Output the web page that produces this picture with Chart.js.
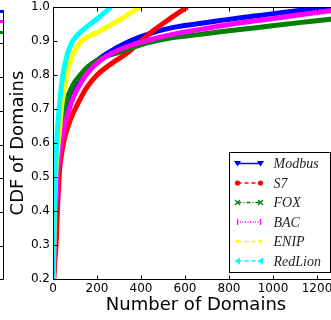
<!DOCTYPE html>
<html>
<head>
<meta charset="utf-8">
<script src="https://cdn.jsdelivr.net/npm/chart.js@4.4.1/dist/chart.umd.min.js"></script>
<style>
    html, body { margin: 0; padding: 0; background: #fff; overflow: hidden; }
    #wrap { position: relative; width: 345px; height: 320px; }
    #prev { position: absolute; left: 0; top: 0; }
</style>
</head>
<body>
<div id="wrap">
    <canvas id="cdfChart"></canvas>
</div>
<!-- bord du panneau voisin, coupé à gauche -->
<svg id="prev" width="6" height="282">
    <rect x="0" y="10" width="4" height="3" fill="#0000ff"/>
    <rect x="0" y="20" width="4" height="3" fill="#ff00ff"/>
    <rect x="0" y="31" width="4" height="3" fill="#008000"/>
    <path d="M3.5 13 V279.5 H0 M0 43.5 H3 M0 77.5 H3 M0 111.5 H3 M0 145.5 H3 M0 178.5 H3 M0 212.5 H3 M0 246.5 H3"
          stroke="#000" stroke-width="1" fill="none"/>
</svg>
<script>
// ============================================================
// DONNÉES
// ============================================================

const protocols = ["Modbus", "S7", "FOX", "BAC", "ENIP", "RedLion"];

const domainTicks = [0, 200, 400, 600, 800, 1000, 1200];
const cdfTicks = [0.2, 0.3, 0.4, 0.5, 0.6, 0.7, 0.8, 0.9, 1.0];

const modbusDomains = [0, 3, 8, 14, 22, 35, 60, 98, 130, 215, 290, 350, 450, 532, 650, 759, 870, 986, 1120, 1260, 1300];
const modbusCdf     = [0.15, 0.3, 0.4, 0.5, 0.55, 0.6, 0.7, 0.76, 0.8, 0.85, 0.88, 0.9, 0.924, 0.938, 0.95, 0.96, 0.97, 0.979, 0.99, 1.0, 1.0];

const s7Domains = [0, 8, 14, 20, 30, 42, 55, 80, 114, 150, 200, 280, 340, 400, 455, 530, 610];
const s7Cdf     = [0.15, 0.25, 0.3, 0.4, 0.52, 0.58, 0.62, 0.67, 0.717, 0.76, 0.8, 0.84, 0.866, 0.9, 0.93, 0.965, 1.0];

const foxDomains = [0, 4, 9, 15, 23, 32, 59, 90, 124, 160, 205, 305, 420, 532, 650, 759, 870, 986, 1120, 1260, 1300];
const foxCdf     = [0.15, 0.3, 0.4, 0.47, 0.52, 0.62, 0.717, 0.77, 0.8, 0.825, 0.844, 0.868, 0.893, 0.909, 0.918, 0.927, 0.935, 0.944, 0.954, 0.964, 0.967];

const bacDomains = [0, 6, 12, 23, 43, 82, 150, 220, 305, 420, 532, 650, 759, 870, 986, 1120, 1260, 1300];
const bacCdf     = [0.15, 0.3, 0.4, 0.526, 0.62, 0.717, 0.8, 0.845, 0.875, 0.9, 0.918, 0.932, 0.944, 0.955, 0.965, 0.977, 0.989, 0.992];

const enipDomains = [0, 4, 7, 12, 18, 27, 41, 62, 90, 127, 200, 260, 310, 395];
const enipCdf     = [0.15, 0.3, 0.4, 0.5, 0.56, 0.62, 0.717, 0.8, 0.86, 0.898, 0.925, 0.946, 0.965, 1.0];

const redlionDomains = [0, 3, 6, 10, 14, 18, 30, 45, 65, 85, 98, 150, 210, 264];
const redlionCdf     = [0.15, 0.3, 0.4, 0.5, 0.56, 0.618, 0.717, 0.8, 0.86, 0.895, 0.908, 0.94, 0.97, 1.0];

const seriesDomains = [modbusDomains, s7Domains, foxDomains, bacDomains, enipDomains, redlionDomains];
const seriesCdf = [modbusCdf, s7Cdf, foxCdf, bacCdf, enipCdf, redlionCdf];

// styles (couleur, tirets et marqueur de la légende)
const styles = [
    { color: "#0000ff", dash: [], marker: "triDown" },
    { color: "#ff0000", dash: [4, 3], marker: "circle" },
    { color: "#008000", dash: [4, 2, 1, 2], marker: "cross" },
    { color: "#ff00ff", dash: [1, 1.5], marker: "bar" },
    { color: "#ffff00", dash: [4, 3], marker: "dot" },
    { color: "#00ffff", dash: [4, 3], marker: "triLeft" }
];

const FONT = "'DejaVu Sans', sans-serif";


// ============================================================
// PLUGINS : cadre avec graduations intérieures + légende
// ============================================================

const framePlugin = {
    id: "frame",
    afterDatasetsDraw(chart) {
        const { ctx, chartArea: a, scales: { x, y } } = chart;
        const L = Math.round(a.left) + 0.5, R = Math.round(a.right) + 0.5;
        const T = Math.round(a.top) + 0.5, B = Math.round(a.bottom) + 0.5;
        ctx.save();
        ctx.strokeStyle = "#000";
        ctx.lineWidth = 1;
        ctx.beginPath();
        ctx.rect(L, T, R - L, B - T);
        x.ticks.forEach(t => {
            const px = Math.round(x.getPixelForValue(t.value)) + 0.5;
            ctx.moveTo(px, B); ctx.lineTo(px, B - 4);
            ctx.moveTo(px, T); ctx.lineTo(px, T + 4);
        });
        y.ticks.forEach(t => {
            const py = Math.round(y.getPixelForValue(t.value)) + 0.5;
            ctx.moveTo(L, py); ctx.lineTo(L + 4, py);
            ctx.moveTo(R, py); ctx.lineTo(R - 4, py);
        });
        ctx.stroke();
        ctx.restore();
    }
};

function drawMarker(ctx, kind, x, y, color) {
    ctx.save();
    ctx.fillStyle = color;
    ctx.strokeStyle = color;
    ctx.setLineDash([]);
    ctx.lineWidth = 1.2;
    ctx.beginPath();
    if (kind === "triDown") {
        ctx.moveTo(x - 3.5, y - 2.5); ctx.lineTo(x + 3.5, y - 2.5); ctx.lineTo(x, y + 3); ctx.closePath(); ctx.fill();
    } else if (kind === "triLeft") {
        ctx.moveTo(x + 2.5, y - 3.5); ctx.lineTo(x + 2.5, y + 3.5); ctx.lineTo(x - 3, y); ctx.closePath(); ctx.fill();
    } else if (kind === "circle") {
        ctx.arc(x, y, 2.6, 0, Math.PI * 2); ctx.fill();
    } else if (kind === "dot") {
        ctx.arc(x, y, 1.8, 0, Math.PI * 2); ctx.fill();
    } else if (kind === "cross") {
        ctx.moveTo(x - 2.5, y - 2.5); ctx.lineTo(x + 2.5, y + 2.5);
        ctx.moveTo(x - 2.5, y + 2.5); ctx.lineTo(x + 2.5, y - 2.5); ctx.stroke();
    } else if (kind === "bar") {
        ctx.moveTo(x, y - 3); ctx.lineTo(x, y + 3); ctx.stroke();
    }
    ctx.restore();
}

const legendPlugin = {
    id: "boxLegend",
    afterDraw(chart) {
        const { ctx, chartArea: a } = chart;
        const w = 101, h = 120;
        const bx = Math.round(a.right - 9 - w) + 0.5;
        const by = Math.round(a.bottom - 7 - h) + 0.5;
        ctx.save();
        ctx.fillStyle = "#fff";
        ctx.strokeStyle = "#000";
        ctx.lineWidth = 1;
        ctx.fillRect(bx, by, w, h);
        ctx.strokeRect(bx, by, w, h);
        ctx.font = "italic 14px 'Liberation Serif', serif";
        ctx.textBaseline = "middle";
        chart.data.datasets.forEach((ds, i) => {
            const st = styles[i];
            const ry = by + 11 + i * 19.5;
            const x0 = bx + 8, x1 = bx + 31;
            ctx.strokeStyle = st.color;
            ctx.lineWidth = 1.5;
            ctx.setLineDash(st.dash);
            ctx.beginPath();
            ctx.moveTo(x0, ry); ctx.lineTo(x1, ry);
            ctx.stroke();
            drawMarker(ctx, st.marker, x0, ry, st.color);
            drawMarker(ctx, st.marker, x1, ry, st.color);
            ctx.fillStyle = "#222";
            ctx.fillText(ds.label, bx + 44, ry + 1);
        });
        ctx.restore();
    }
};


// ============================================================
// GRAPHIQUE
// ============================================================

const datasets = protocols.map((name, i) => ({
    label: name,
    data: seriesDomains[i].map((d, k) => ({ x: d, y: seriesCdf[i][k] })),
    borderColor: styles[i].color,
    backgroundColor: styles[i].color,
    borderWidth: 5,
    pointRadius: 0,
    cubicInterpolationMode: "monotone",
    fill: false,
    clip: 0,
    order: protocols.length - i   // le dernier protocole est dessiné au-dessus
}));

new Chart(document.getElementById("cdfChart"), {
    type: "line",
    data: { datasets: datasets },
    options: {
        responsive: true,
        maintainAspectRatio: false,
        animation: false,
        layout: { padding: { top: 7, right: 6, left: 0, bottom: 0 } },
        plugins: {
            legend: { display: false },
            tooltip: { enabled: false }
        },
        scales: {
            x: {
                type: "linear",
                min: 0,
                max: 1300,
                afterBuildTicks: s => { s.ticks = domainTicks.map(v => ({ value: v })); },
                afterFit: s => { s.height = 41; s.paddingLeft = 0; s.paddingRight = 0; },
                grid: { display: false, drawTicks: false },
                border: { display: false },
                ticks: {
                    color: "#000",
                    font: { family: FONT, size: 12 },
                    padding: 3,
                    maxRotation: 0,
                    callback: v => String(v)
                },
                title: {
                    display: true,
                    text: "Number of Domains",
                    color: "#000",
                    font: { family: FONT, size: 18 },
                    padding: { top: 0, bottom: 4 }
                }
            },
            y: {
                min: 0.2,
                max: 1.0,
                afterBuildTicks: s => { s.ticks = cdfTicks.map(v => ({ value: v })); },
                afterFit: s => { s.width = 53; s.paddingTop = 0; s.paddingBottom = 0; },
                grid: { display: false, drawTicks: false },
                border: { display: false },
                ticks: {
                    color: "#000",
                    font: { family: FONT, size: 12 },
                    padding: 3,
                    callback: v => Number(v).toFixed(1)
                },
                title: {
                    display: true,
                    text: "CDF of Domains",
                    color: "#000",
                    font: { family: FONT, size: 18 },
                    padding: { top: 8, bottom: 0 }
                }
            }
        }
    },
    plugins: [framePlugin, legendPlugin]
});
</script>
</body>
</html>
